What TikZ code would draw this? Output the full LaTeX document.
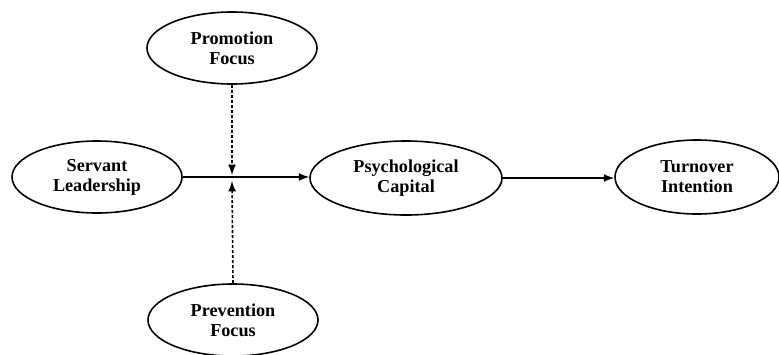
\documentclass[tikz,border=0pt]{standalone}
\usepackage{fontspec}
\setmainfont{Liberation Serif}
\usepackage{tikz}
\usetikzlibrary{arrows,shapes,positioning}
\tikzset{
    basic/.style  = {draw, ellipse, line width=0.8pt, inner sep=0pt, align=center,
                     font=\bfseries\fontsize{9.1}{10}\selectfont},
    construct/.style = {basic, minimum width=85pt, minimum height=36pt},
    wide construct/.style = {basic, minimum width=96pt, minimum height=37pt},
    path line/.style = {->, line width=0.8pt},
    moderator line/.style = {->, line width=0.8pt, dash pattern=on 1.5pt off 1pt}
}
\begin{document}
\begin{tikzpicture}[x=0.5pt, y=-0.5pt, >=latex]
	\useasboundingbox (0,0) rectangle (779,354);
		\node[construct] (servant) at (97,177) {Servant\\Leadership};
		\node[construct] (promotion) at (232,48) {Promotion\\Focus};
		\node[construct] (prevention) at (233,320) {Prevention\\Focus};
		\node[wide construct] (capital) at (406,178) {Psychological\\Capital};
		\node[basic, minimum width=82pt, minimum height=37pt] (turnover) at (697,177) {Turnover\\Intention};
		\coordinate (moderation) at (232,178);
		\draw[path line] (servant.east) -- (servant.east -| capital.west);
		\draw[path line] (capital.east) -- (capital.east -| turnover.west);
		\draw[moderator line] (promotion.south) -- ([yshift=1.5pt]moderation);
		\draw[moderator line] (prevention.north) -- ([yshift=-1.5pt]moderation);
	\end{tikzpicture}
\end{document}
